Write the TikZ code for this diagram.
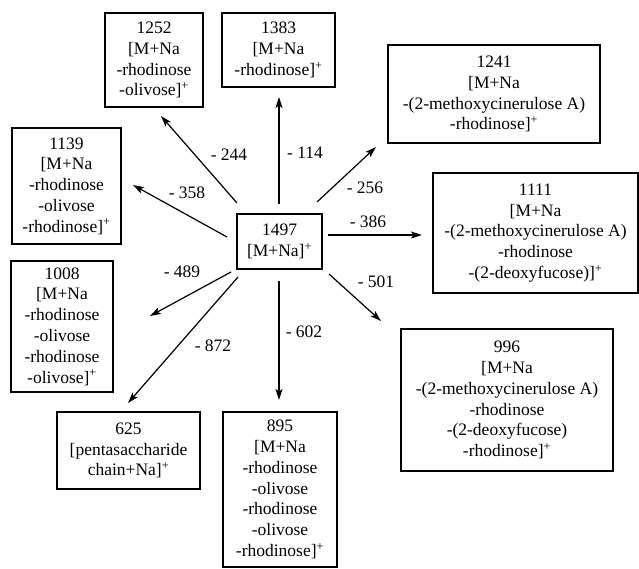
\documentclass[tikz,border=0pt]{standalone}
\usepackage{fontspec}
\setmainfont{Liberation Serif}
\usetikzlibrary{arrows.meta,calc}
\newcommand\ionp{\textsuperscript{+}}
\begin{document}
\begin{tikzpicture}[x=1pt,y=-1pt,
  box/.style={draw,line width=1.4pt,inner sep=0pt,outer sep=0pt,align=center,
    font=\fontsize{17.5}{20.8}\selectfont},
  lbl/.style={inner sep=0pt,font=\fontsize{17.5}{20.8}\selectfont},
  arr/.style={line width=1.2pt,-{Stealth[length=11pt,width=7pt,inset=2.5pt]}}]
\useasboundingbox[fill=white] (0,0) rectangle (639,568);
\node[box,minimum width=85pt,minimum height=55pt] (C) at (279.5,241.5) {1497\\{[}M+Na]\ionp};
\node[box,minimum width=98pt,minimum height=94pt] (B1252) at (154,60) {1252\\{[}M+Na\\-rhodinose\\-olivose]\ionp};
\node[box,minimum width=113pt,minimum height=74pt] (B1383) at (278.5,50) {1383\\{[}M+Na\\-rhodinose]\ionp};
\node[box,minimum width=212pt,minimum height=98pt] (B1241) at (494,94) {1241\\{[}M+Na\\-(2-methoxycinerulose A)\\-rhodinose]\ionp};
\node[box,minimum width=205pt,minimum height=120pt] (B1111) at (535.5,233) {1111\\{[}M+Na\\-(2-methoxycinerulose A)\\-rhodinose\\-(2-deoxyfucose)]\ionp};
\node[box,minimum width=212pt,minimum height=142pt] (B996) at (507,400) {996\\{[}M+Na\\-(2-methoxycinerulose A)\\-rhodinose\\-(2-deoxyfucose)\\-rhodinose]\ionp};
\node[box,minimum width=114pt,minimum height=155pt] (B895) at (280,489.5) {895\\{[}M+Na\\-rhodinose\\-olivose\\-rhodinose\\-olivose\\-rhodinose]\ionp};
\node[box,minimum width=143pt,minimum height=77pt] (B625) at (128.5,450.5) {625\\{[}pentasaccharide\\chain+Na]\ionp};
\node[box,minimum width=102pt,minimum height=131pt] (B1008) at (62,326.5) {1008\\{[}M+Na\\-rhodinose\\-olivose\\-rhodinose\\-olivose]\ionp};
\node[box,minimum width=109pt,minimum height=116pt] (B1139) at (66.5,186) {1139\\{[}M+Na\\-rhodinose\\-olivose\\-rhodinose]\ionp};
% arrows
\draw[arr] ($(C.north west)+(0,-11)$) -- ($(B1252.south)+(7,9)$);
\draw[arr] ($(C.north)+(-0.5,-10)$) -- ($(B1383.south)+(0.5,10)$);
\draw[arr] ($(C.north east)+(-5,-12)$) -- ($(B1241.south west)+(-12,4)$);
\draw[arr] ($(C.east)+(6,-6.5)$) -- ($(B1111.west)+(-11,2)$);
\draw[arr] ($(C.south east)+(7,5)$) -- ($(B996.north west)+(-20,-8)$);
\draw[arr] ($(C.south)+(-0.5,12)$) -- ($(B895.north)+(-1,-12)$);
\draw[arr] ($(C.south west)+(1,8)$) -- ($(B625.north)+(-0.5,-9)$);
\draw[arr] ($(C.south west)+(-6,3)$) -- ($(B1008.east)+(37,-10.5)$);
\draw[arr] ($(C.west)+(-10,-4.5)$) -- ($(B1139.east)+(12,-1)$);
% labels
\node[lbl] (l244) at (229,155) {- 244};
\node[lbl] (l114) at (305,153) {- 114};
\node[lbl] (l256) at (365,188) {- 256};
\node[lbl] (l386) at (368,222) {- 386};
\node[lbl] (l501) at (376,282) {- 501};
\node[lbl] (l602) at (304,332) {- 602};
\node[lbl] (l872) at (213,346) {- 872};
\node[lbl] (l489) at (182,272) {- 489};
\node[lbl] (l358) at (187,193) {- 358};
\end{tikzpicture}
\end{document}
